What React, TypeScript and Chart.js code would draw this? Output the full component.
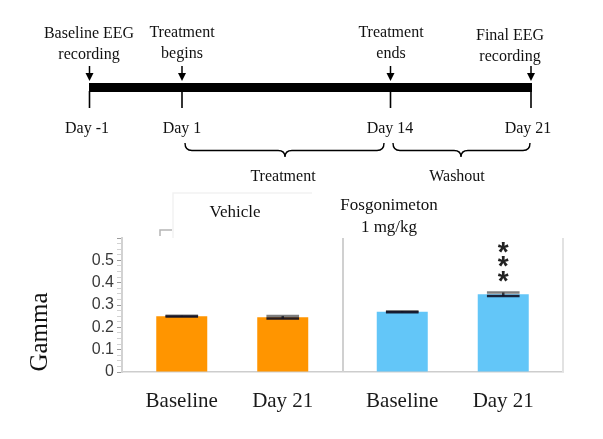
import React, { useEffect, useRef } from 'react';
import { Chart, registerables } from 'chart.js';

Chart.register(...registerables);

// ---------------- Data ----------------
const groups = ['Vehicle', 'Fosgonimeton 1 mg/kg'];
const groupTitleLines = [['Vehicle'], ['Fosgonimeton', '1 mg/kg']];
const timepoints = ['Baseline', 'Day 21'];
const baselineGamma = [0.25, 0.27];
const baselineSem = [0.002, 0.002];
const day21Gamma = [0.245, 0.348];
const day21Sem = [0.006, 0.008];
const baselineSignificance = ['', ''];
const day21Significance = ['', '***'];
const groupColors = ['#FF9500', '#63C6F8'];
const yTickLabels = ['0', '0.1', '0.2', '0.3', '0.4', '0.5'];
const yMax = 0.6;
const yMinorStep = 0.025;
const yTitle = 'Gamma';

const timelineDays = ['Day -1', 'Day 1', 'Day 14', 'Day 21'];
const timelineEvents = [
  ['Baseline EEG', 'recording'],
  ['Treatment', 'begins'],
  ['Treatment', 'ends'],
  ['Final EEG', 'recording'],
];
const phases = ['Treatment', 'Washout'];

// ---------------- Layout (positions only) ----------------
const TL_MARK_X = [89.5, 182, 390.5, 531];
const TL_EVENT_X = [89, 182, 391, 510];
const TL_EVENT_Y = [38, 37, 37, 40];
const TL_DAY_X = [87, 182, 390, 528];
const TL_BRACES = [
  { x1: 185, x2: 384, xm: 285, tx: 283 },
  { x1: 393, x2: 530, xm: 461, tx: 457 },
];
const GROUP_TITLE_POS = [
  { x: 235, y: 217 },
  { x: 389, y: 210 },
];

const semByDataset = [baselineSem, day21Sem];
const sigByDataset = [baselineSignificance, day21Significance];

const framePlugin = {
  id: 'frame',
  beforeDatasetsDraw(chart: any) {
    const { ctx, chartArea, scales } = chart;
    const x = scales.x;
    const mid = (x.getPixelForValue(0) + x.getPixelForValue(1)) / 2;
    ctx.save();
    ctx.lineWidth = 2;
    ctx.strokeStyle = '#d0d0d0';
    ctx.beginPath();
    ctx.moveTo(Math.round(mid), chartArea.top);
    ctx.lineTo(Math.round(mid), chartArea.bottom);
    ctx.stroke();
    ctx.strokeStyle = '#e2e2e2';
    ctx.beginPath();
    ctx.moveTo(chartArea.right, chartArea.top);
    ctx.lineTo(chartArea.right, chartArea.bottom);
    ctx.stroke();
    ctx.restore();
  },
};

const errorBarPlugin = {
  id: 'errorBars',
  afterDatasetsDraw(chart: any) {
    const { ctx, scales } = chart;
    const y = scales.y;
    chart.data.datasets.forEach((ds: any, di: number) => {
      const meta = chart.getDatasetMeta(di);
      meta.data.forEach((bar: any, i: number) => {
        const v = ds.data[i];
        const e = semByDataset[di][i];
        const w = bar.width * 0.64;
        const yt = y.getPixelForValue(v + e);
        const yb = y.getPixelForValue(v - e);
        ctx.save();
        ctx.lineWidth = 2.5;
        ctx.strokeStyle = 'rgba(30,30,40,0.85)';
        ctx.beginPath();
        ctx.moveTo(bar.x, yt);
        ctx.lineTo(bar.x, yb);
        ctx.stroke();
        ctx.strokeStyle = 'rgba(40,40,40,0.6)';
        ctx.beginPath();
        ctx.moveTo(bar.x - w / 2, yt);
        ctx.lineTo(bar.x + w / 2, yt);
        ctx.stroke();
        ctx.strokeStyle = 'rgba(15,15,35,0.9)';
        ctx.beginPath();
        ctx.moveTo(bar.x - w / 2, yb);
        ctx.lineTo(bar.x + w / 2, yb);
        ctx.stroke();
        ctx.restore();
      });
    });
  },
};

const labelPlugin = {
  id: 'barLabels',
  afterDraw(chart: any) {
    const { ctx, chartArea, scales } = chart;
    const y = scales.y;
    ctx.save();
    chart.data.datasets.forEach((ds: any, di: number) => {
      const meta = chart.getDatasetMeta(di);
      meta.data.forEach((bar: any, i: number) => {
        ctx.font = '21px "Liberation Serif", serif';
        ctx.fillStyle = '#1a1a1a';
        ctx.textAlign = 'center';
        ctx.textBaseline = 'alphabetic';
        ctx.fillText(timepoints[di], bar.x, chartArea.bottom + 35);
        const sig = sigByDataset[di][i];
        if (sig) {
          const top = y.getPixelForValue(ds.data[i] + semByDataset[di][i]);
          ctx.font = 'bold 28px "Liberation Sans", sans-serif';
          ctx.fillStyle = '#222';
          const m = ctx.measureText('*');
          const off = (m.actualBoundingBoxAscent - m.actualBoundingBoxDescent) / 2;
          for (let k = 0; k < sig.length; k++) {
            const c = top - 16 - k * 14.5;
            ctx.fillText(sig[k], bar.x, c + off);
          }
        }
      });
    });
    ctx.restore();
  },
};

const brace = (x1: number, x2: number, xm: number) => {
  const yTop = 143, yMid = 150.5, yTip = 157;
  return `M${x1},${yTop} Q${x1},${yMid} ${x1 + 7},${yMid} L${xm - 7},${yMid} Q${xm},${yMid} ${xm},${yTip} Q${xm},${yMid} ${xm + 7},${yMid} L${x2 - 7},${yMid} Q${x2},${yMid} ${x2},${yTop}`;
};

export default function App() {
  const ref = useRef<HTMLCanvasElement>(null);
  useEffect(() => {
    const canvas = ref.current;
    if (!canvas) return;
    const chart = new Chart(canvas, {
      type: 'bar',
      data: {
        labels: groups,
        datasets: [
          { label: timepoints[0], data: baselineGamma, backgroundColor: groupColors, borderWidth: 0, categoryPercentage: 0.916, barPercentage: 0.505 },
          { label: timepoints[1], data: day21Gamma, backgroundColor: groupColors, borderWidth: 0, categoryPercentage: 0.916, barPercentage: 0.505 },
        ],
      },
      options: {
        responsive: false,
        animation: false,
        devicePixelRatio: 1,
        layout: { padding: { top: 238, right: 40, bottom: 0, left: 0 } },
        plugins: { legend: { display: false }, tooltip: { enabled: false }, title: { display: false } },
        scales: {
          x: {
            grid: { display: false, drawTicks: false },
            ticks: { display: false },
            border: { display: true, color: '#cdcdcd', width: 1.5 },
            afterFit: (s: any) => { s.height = 67; },
          },
          y: {
            min: 0,
            max: yMax,
            ticks: {
              stepSize: yMinorStep,
              autoSkip: false,
              padding: 3,
              color: '#3a3a3a',
              font: { family: '"Liberation Sans", sans-serif', size: 16 },
              callback: (v: any) => {
                const idx = Math.round(Number(v) * 1000);
                if (idx % 100 === 0) {
                  const k = idx / 100;
                  return k < yTickLabels.length ? yTickLabels[k] : '';
                }
                return '';
              },
            },
            grid: {
              drawOnChartArea: false,
              drawTicks: true,
              tickLength: 5,
              color: (c: any) => (Math.round((c.tick?.value ?? 0) * 1000) % 100 === 0 ? '#9c9c9c' : '#d2d2d2'),
              lineWidth: 1,
            },
            border: { display: true, color: '#d2d2d2', width: 2 },
            afterFit: (s: any) => { s.width = 122; },
          },
        },
      },
      plugins: [framePlugin, errorBarPlugin, labelPlugin],
    } as any);
    return () => chart.destroy();
  }, []);

  return (
    <div style={{ position: 'fixed', left: 0, top: 0, width: 603, height: 439, background: '#fff' }}>
      <canvas ref={ref} width={603} height={439} style={{ position: 'absolute', left: 0, top: 0 }} />
      <svg
        width={603}
        height={439}
        style={{ position: 'absolute', left: 0, top: 0, pointerEvents: 'none' }}
        fontFamily="'Liberation Serif', 'Times New Roman', serif"
      >
        {/* faint artifacts */}
        <path d="M173,238 L173,193 L312,193" stroke="#f2f2f2" strokeWidth={1.5} fill="none" />
        <path d="M160,236 L160,230 L172,230" stroke="#b5b5b5" strokeWidth={1.5} fill="none" />

        {/* timeline events */}
        {timelineEvents.map((lines, i) =>
          lines.map((t, j) => (
            <text key={`ev${i}-${j}`} x={TL_EVENT_X[i]} y={TL_EVENT_Y[i] + j * 21} textAnchor="middle" fontSize={16} fill="#111">
              {t}
            </text>
          ))
        )}
        {TL_MARK_X.map((x, i) => (
          <g key={`ar${i}`}>
            <line x1={x} y1={66} x2={x} y2={74} stroke="#000" strokeWidth={1.5} />
            <path d={`M${x - 4},73 L${x + 4},73 L${x},81 Z`} fill="#000" />
            <line x1={x} y1={91} x2={x} y2={108} stroke="#000" strokeWidth={1.6} />
          </g>
        ))}
        <rect x={89} y={83} width={443} height={9} fill="#000" />
        {timelineDays.map((d, i) => (
          <text key={`d${i}`} x={TL_DAY_X[i]} y={133} textAnchor="middle" fontSize={16} fill="#111">
            {d}
          </text>
        ))}
        {TL_BRACES.map((b, i) => (
          <g key={`br${i}`}>
            <path d={brace(b.x1, b.x2, b.xm)} stroke="#000" strokeWidth={1.4} fill="none" />
            <text x={b.tx} y={181} textAnchor="middle" fontSize={16} fill="#111">
              {phases[i]}
            </text>
          </g>
        ))}

        {/* group titles */}
        {groupTitleLines.map((lines, i) =>
          lines.map((t, j) => (
            <text key={`g${i}-${j}`} x={GROUP_TITLE_POS[i].x} y={GROUP_TITLE_POS[i].y + j * 22} textAnchor="middle" fontSize={17} fill="#111">
              {t}
            </text>
          ))
        )}

        {/* y-axis title */}
        <text transform="translate(47,332) rotate(-90)" textAnchor="middle" fontSize={25} fill="#111">
          {yTitle}
        </text>
      </svg>
    </div>
  );
}
